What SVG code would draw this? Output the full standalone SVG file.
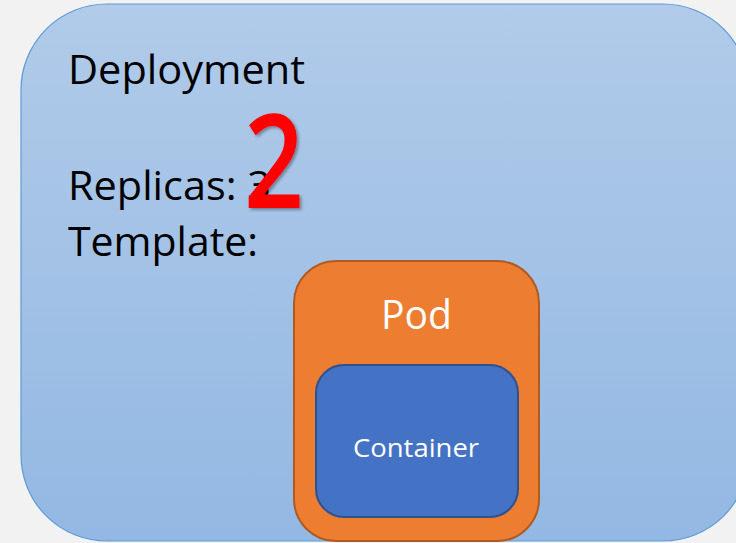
<svg xmlns="http://www.w3.org/2000/svg" width="736" height="543" viewBox="0 0 736 543">
  <defs>
    <linearGradient id="deployFill" x1="0" y1="0" x2="0" y2="1">
      <stop offset="0" stop-color="#b1cbe9"/>
      <stop offset="1" stop-color="#93b8e3"/>
    </linearGradient>
    <filter id="softShadow" x="-20%" y="-20%" width="150%" height="150%">
      <feDropShadow dx="2" dy="2" stdDeviation="1.5" flood-color="#000" flood-opacity="0.35"/>
    </filter>
    <style>
      .label { font-family: "Open Sans", "Liberation Sans", sans-serif; }
      .dark { fill: #000; }
      .light { fill: #fff; }
    </style>
  </defs>

  <rect width="736" height="543" fill="#f2f2f2"/>

  <!-- Deployment -->
  <g id="deployment">
    <rect x="21" y="4" width="728" height="537" rx="86" ry="86" fill="url(#deployFill)" stroke="#5b9bd5" stroke-width="1.2"/>
    <text class="label dark" x="68" y="84" font-size="40" textLength="237" lengthAdjust="spacingAndGlyphs">Deployment</text>
    <text class="label dark" x="68" y="200" font-size="40" textLength="203" lengthAdjust="spacingAndGlyphs">Replicas: 3</text>
    <text class="label dark" x="68" y="256" font-size="40" textLength="190" lengthAdjust="spacingAndGlyphs">Template:</text>
    <text x="244" y="208" font-family="'Open Sans', 'Liberation Sans', sans-serif" font-size="130" font-weight="600" fill="#ff0000" textLength="60" lengthAdjust="spacingAndGlyphs" filter="url(#softShadow)">2</text>
  </g>

  <!-- Pod -->
  <g id="pod">
    <rect x="294" y="261" width="245" height="280" rx="42" ry="42" fill="#ed7d31" stroke="#ae5a21" stroke-width="2"/>
    <text class="label light" x="381" y="329" font-size="40" textLength="71" lengthAdjust="spacingAndGlyphs">Pod</text>
  </g>

  <!-- Container -->
  <g id="container">
    <rect x="316" y="365" width="202" height="152" rx="28" ry="28" fill="#4472c4" stroke="#2f528f" stroke-width="2"/>
    <text class="label light" x="353" y="457" font-size="25" textLength="126" lengthAdjust="spacingAndGlyphs">Container</text>
  </g>

  <g id="connectors"/>
</svg>
